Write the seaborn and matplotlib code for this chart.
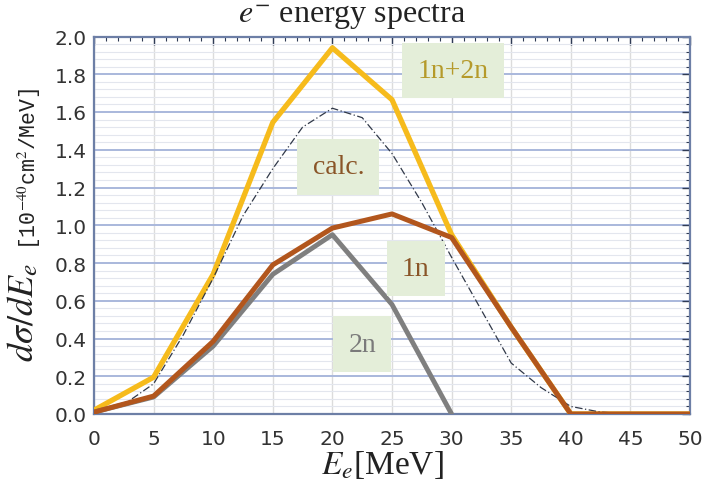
import matplotlib
matplotlib.use("Agg")
import matplotlib.pyplot as plt
import seaborn as sns
import pandas as pd
from matplotlib.ticker import MultipleLocator

# ---- data ----
energy = [0, 5, 10, 15, 20, 25, 30, 35, 40, 45, 50]
sum_1n2n = [0.02, 0.195, 0.74, 1.545, 1.94, 1.665, 0.95, 0.46, 0.0, 0.0, 0.0]
one_n = [0.01, 0.095, 0.385, 0.79, 0.985, 1.06, 0.935, 0.46, 0.0, 0.0, 0.0]
two_n_energy = [0, 5, 10, 15, 20, 25, 30]
two_n = [0.01, 0.09, 0.36, 0.74, 0.95, 0.58, 0.0]
calc_energy = [0, 2.5, 5, 7.5, 10, 12.5, 15, 17.5, 20, 22.5, 25, 27.5, 30,
               32.5, 35, 37.5, 40, 42.5, 45, 50]
calc = [0.0, 0.05, 0.16, 0.42, 0.72, 1.05, 1.30, 1.52, 1.62, 1.57, 1.38, 1.12,
        0.83, 0.55, 0.27, 0.14, 0.04, 0.01, 0.0, 0.0]
labels = ["1n+2n", "calc.", "1n", "2n"]
label_x = [30.1, 20.5, 27.0, 22.5]
label_y = [1.82, 1.31, 0.77, 0.37]
y_ticks = [0.0, 0.2, 0.4, 0.6, 0.8, 1.0, 1.2, 1.4, 1.6, 1.8, 2.0]

sns.set_style("white")
plt.rcParams["font.family"] = ["Liberation Serif", "DejaVu Serif"]
plt.rcParams["mathtext.fontset"] = "stix"

fig = plt.figure(figsize=(7.05, 5.02), dpi=100)
ax = fig.add_axes([94 / 705, 1 - 415 / 502, (690 - 94) / 705, (415 - 37.5) / 502])

axis_col = "#6d7fa6"
# grid
ax.yaxis.set_major_locator(MultipleLocator(0.2))
ax.yaxis.set_minor_locator(MultipleLocator(0.04))
ax.xaxis.set_major_locator(MultipleLocator(5))
ax.xaxis.set_minor_locator(MultipleLocator(1))
ax.grid(True, which="major", axis="y", color="#a9b8dc", lw=1.4)
ax.grid(True, which="minor", axis="y", color="#e3e6ee", lw=0.8)
ax.grid(True, which="major", axis="x", color="#dcdcdc", lw=1.0)
ax.set_axisbelow(True)

df_sum = pd.DataFrame({"E": energy, "v": sum_1n2n})
df_1n = pd.DataFrame({"E": energy, "v": one_n})
df_2n = pd.DataFrame({"E": two_n_energy, "v": two_n})
df_calc = pd.DataFrame({"E": calc_energy, "v": calc})

sns.lineplot(data=df_sum, x="E", y="v", ax=ax, color="#f6bb1c", lw=3.8, zorder=3)
sns.lineplot(data=df_calc, x="E", y="v", ax=ax, color="#303848", lw=0.9,
             linestyle=(0, (6, 2, 1, 2)), zorder=4)
sns.lineplot(data=df_2n, x="E", y="v", ax=ax, color="#7f7f7f", lw=3.5, zorder=5)
sns.lineplot(data=df_1n, x="E", y="v", ax=ax, color="#b2561d", lw=3.6, zorder=6)

ax.set_xlim(0, 50)
ax.set_ylim(0, 2.0)

# ticks
ax.tick_params(axis="both", which="both", direction="in", top=True, right=True,
               color="#2f3b55")
ax.tick_params(which="major", length=6, width=1.0)
ax.tick_params(which="minor", length=3, width=0.8)
ax.tick_params(axis="y", labelcolor="#333333", pad=5)
ax.tick_params(axis="x", labelcolor="#333333", pad=11)
ax.set_yticks(y_ticks)
ax.set_yticklabels([f"{v:.1f}" for v in y_ticks], family=["DejaVu Sans"],
                   fontsize=14.5)
ax.set_xticks(energy)
ax.set_xticklabels([str(e) for e in energy], family=["DejaVu Sans"],
                   fontsize=14.5)

for s in ax.spines.values():
    s.set_color(axis_col)
    s.set_linewidth(1.6)

ax.set_xlabel("")
ax.set_ylabel("")

# label boxes
text_cols = ["#b59a2a", "#8a5528", "#8a5528", "#7a7a7a"]
for t, x, y, c in zip(labels, label_x, label_y, text_cols):
    ax.text(x, y, t, ha="center", va="center", fontsize=20, color=c, zorder=8,
            bbox=dict(boxstyle="square,pad=0.55", fc="#e4eed9", ec="none"))

# title and axis labels
fig.text(352 / 705, 1 - 17 / 502, r"$e^{-}$ energy spectra", ha="center",
         va="center", fontsize=23, color="#222222")
fig.text(382 / 705, 1 - 465 / 502, r"$E_e$[MeV]", ha="center", va="center",
         fontsize=24, color="#222222")
fig.text(24 / 705, 1 - 362 / 502, r"$d\sigma/dE_e$", rotation=90,
         ha="center", va="bottom", fontsize=26, color="#222222")
fig.text(29 / 705, 1 - 250 / 502, r"[10$^{-40}$cm$^{2}$/MeV]", rotation=90,
         ha="center", va="bottom", fontsize=15.5, color="#222222",
         family=["Liberation Mono"])

fig.savefig("out.png", dpi=100)
